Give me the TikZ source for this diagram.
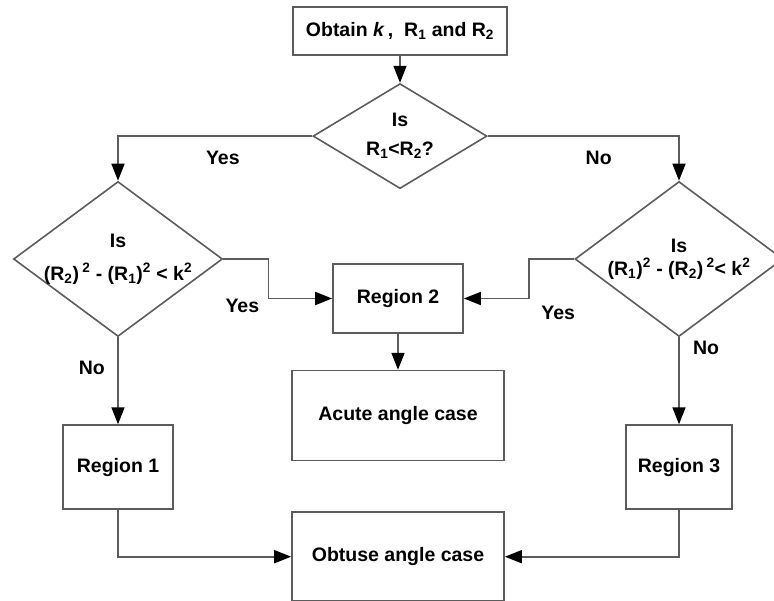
\documentclass[tikz,border=0pt]{standalone}
\usepackage{fontspec}
\setmainfont{Liberation Sans}
\usetikzlibrary{arrows.meta,positioning,shapes.geometric}
\definecolor{linegray}{HTML}{5C5C5C}
\tikzset{
    every node/.style={text=black,font=\bfseries\fontsize{19.5}{23}\selectfont},
    box node/.style={draw,rectangle,inner sep=0pt,align=center},
    test node/.style={draw,diamond,inner sep=-6pt,align=center}
}

\begin{document}
\begin{tikzpicture}[x=1pt,y=-1pt,color=linegray,line width=1.6pt,->,>={Triangle[length=17pt,width=13pt,color=black]}]
    \useasboundingbox (0,0) rectangle (774,601);

    \node[box node,minimum width=214pt,minimum height=48pt] (1) at (400,31) {Obtain \textit{k}\,,\ \ R\textsubscript{1} and R\textsubscript{2}};
    \node[test node,minimum width=174pt,minimum height=105pt,aspect=1.66] (2) [below=27pt of 1] {Is\\[6pt]R\textsubscript{1}<R\textsubscript{2}?};

    \node[test node,minimum width=209pt,minimum height=155pt,aspect=1.35] (3) at (118,259) {Is\\[10pt](R\textsubscript{2})\,\textsuperscript{2} - (R\textsubscript{1})\textsuperscript{2} < k\textsuperscript{2}};
    \node[test node,minimum width=208pt,minimum height=155pt,aspect=1.35] (4) at (679,259) {Is\\(R\textsubscript{1})\textsuperscript{2} - (R\textsubscript{2})\,\textsuperscript{2}< k\textsuperscript{2}};

    \node[box node,minimum width=130pt,minimum height=69pt] (5) at (398,298.5) {Region 2};
    \node[box node,minimum width=212pt,minimum height=90pt] (6) [below=36pt of 5] {Acute angle case};
    \node[box node,minimum width=212pt,minimum height=89pt] (7) [below=50pt of 6] {Obtuse angle case};

    \node[box node,minimum width=110pt,minimum height=84pt] (8) [below=87pt of 3] {Region 1};
    \node[box node,minimum width=106pt,minimum height=84pt] (9) [below=87pt of 4] {Region 3};

    \draw (1) -- (2);
    \draw (2.west) -| (3.north) node [pos=0.23, below=11pt] (TextNode) {Yes};
    \draw (2.east) -| (4.north) node [pos=0.29, below=11pt] (TextNode) {No};

    \draw (3.east) -- ++(45,0) |- (5.west) node [pos=0.5, anchor=east, xshift=-5pt, yshift=-7pt] (TextNode) {Yes};
    \draw (4.west) -- ++(-45,0) |- (5.east) node [pos=0.5, anchor=west, xshift=8pt, yshift=-14pt] (TextNode) {Yes};

    \draw (3) -- (8) node [pos=0.35, left=9pt] (TextNode) {No};
    \draw (4) -- (9) node [pos=0.12, right=10pt] (TextNode) {No};

    \draw (5) -- (6);
    \draw (8.south) |- (7.west);
    \draw (9.south) |- (7.east);
\end{tikzpicture}
\end{document}
